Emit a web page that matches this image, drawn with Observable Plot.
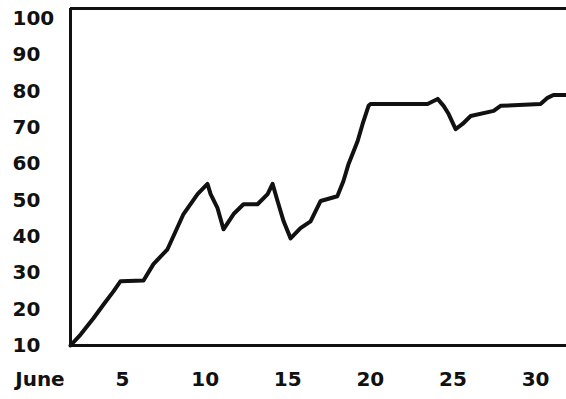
<!DOCTYPE html>
<html>
<head>
<meta charset="utf-8">
<script src="https://cdn.jsdelivr.net/npm/d3@7"></script>
<script src="https://cdn.jsdelivr.net/npm/@observablehq/plot@0.6"></script>
<style>
  html, body { margin: 0; padding: 0; background: #fff; overflow: hidden; }
  #chart svg { display: block; }
</style>
</head>
<body>
<div id="chart"></div>
<script>
// Day of June (fractional) and the plotted value
const days = [1.85, 2.46, 3.24, 3.85, 4.45, 4.88, 6.27, 6.87, 7.72, 8.69, 9.54, 10.14, 10.33, 10.75, 11.11,
  11.72, 12.32, 13.17, 13.78, 14.08, 14.38, 14.75, 15.17, 15.77, 16.38, 16.99, 18.0, 18.37, 18.68, 19.23,
  19.53, 19.89, 20.01, 23.46, 24.07, 24.43, 24.73, 25.16, 25.58, 26.07, 27.46, 27.88, 30.3, 30.72, 31.08, 31.87];
const values = [10, 13.0, 17.5, 21.3, 24.9, 27.7, 27.9, 32.4, 36.5, 46.2, 51.7, 54.5, 51.7, 47.8, 42.0,
  46.2, 48.9, 48.9, 51.7, 54.5, 49.8, 44.2, 39.5, 42.3, 44.2, 49.8, 51.1, 55.3, 60.0, 66.3,
  71.0, 76.0, 76.5, 76.5, 77.9, 76.0, 73.8, 69.6, 71.0, 73.2, 74.6, 76.0, 76.5, 78.2, 79.0, 79.0];

const xTicks = [0, 5, 10, 15, 20, 25, 30];
const xTickLabels = ["June", "5", "10", "15", "20", "25", "30"];
const yTicks = [10, 20, 30, 40, 50, 60, 70, 80, 90, 100];

const xDomain = [1.85, 31.87];
const yDomain = [10, 102.8];

const data = days.map((d, i) => ({day: d, value: values[i]}));
const font = "'DejaVu Sans', sans-serif";

const chart = Plot.plot({
  width: 566,
  height: 399,
  marginLeft: 70,
  marginRight: 0,
  marginTop: 8,
  marginBottom: 54,
  style: {fontFamily: font, background: "#fff", overflow: "visible"},
  x: {domain: xDomain, axis: null},
  y: {domain: yDomain, axis: null},
  marks: [
    Plot.ruleY([yDomain[0]], {stroke: "#111", strokeWidth: 3}),
    Plot.ruleY([yDomain[1]], {stroke: "#111", strokeWidth: 3}),
    Plot.ruleX([xDomain[0]], {stroke: "#111", strokeWidth: 3}),
    Plot.line(data, {x: "day", y: "value", stroke: "#111", strokeWidth: 4,
      strokeLinejoin: "round", strokeLinecap: "round"}),
    Plot.text(yTicks, {y: d => d, text: d => String(d), frameAnchor: "left", dx: -58,
      textAnchor: "start", fontSize: 20, fontWeight: "bold", fill: "#111"}),
    Plot.text(xTicks, {x: d => d, text: (d, i) => xTickLabels[i], frameAnchor: "bottom", dy: 40,
      textAnchor: "middle", fontSize: 20, fontWeight: "bold", fill: "#111"})
  ]
});
document.getElementById("chart").append(chart);
</script>
</body>
</html>
